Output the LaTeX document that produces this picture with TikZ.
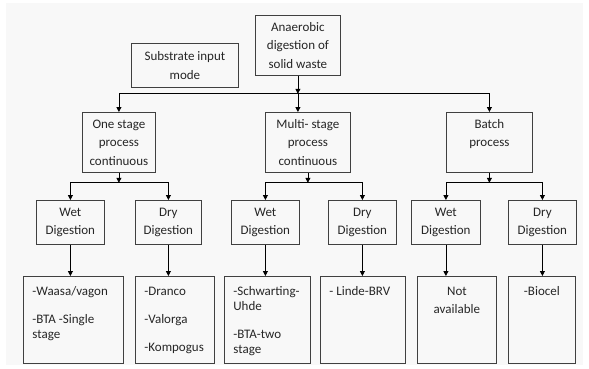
\documentclass[tikz,border=0pt]{standalone}
\usepackage{fontspec}
\setmainfont{Carlito}
\usepackage{xcolor}
\usetikzlibrary{arrows.meta, positioning}
\definecolor{boxedge}{HTML}{404040}
\definecolor{boxtext}{HTML}{262626}
\definecolor{pagegray}{HTML}{F8F8F8}
% top aligned contents of the bottom row
\newcommand{\leaflist}[2]{\parbox[t][87pt][t]{#1}{\raggedright\fontsize{13}{15}\selectfont\setlength{\parskip}{13pt}\rule{0pt}{19pt}#2}}
\newcommand{\leafmid}[2]{\parbox[t][87pt][t]{#1}{\centering\fontsize{13}{18}\selectfont\rule{0pt}{19pt}#2}}

\begin{document}
\begin{tikzpicture}[
    x=1pt, y=-1pt,
    box/.style={draw=boxedge, line width=0.8pt, align=center, anchor=north west,
                text=boxtext, font=\fontsize{13}{18.5}\selectfont, inner sep=0pt},
    leaf/.style={draw=boxedge, line width=0.8pt, anchor=north west,
                 text=boxtext, inner xsep=9pt, inner ysep=0pt},
    arr/.style={-{Triangle[width=5pt, length=5pt]}, line width=0.8pt},
  ]

  \useasboundingbox[fill=white] (0,0) rectangle (589,368);
  \fill[pagegray] (6,3) rectangle (583,365);

  % Top
  \node[box, minimum width=85pt, minimum height=60pt] (ad) at (255,15) {Anaerobic\\digestion of\\solid waste};
  \node[box, minimum width=107pt, minimum height=44pt] (mode) at (131,43) {Substrate input\\mode};
  \coordinate[below=18pt of ad] (adhub);

  % Process types
  \node[box, minimum width=73pt, minimum height=60pt] (one) at (82,112) {One stage\\process\\continuous};
  \node[box, minimum width=85pt, minimum height=60pt] (multi) at (265,112) {Multi- stage\\process\\continuous};
  \node[box, minimum width=86pt, minimum height=60pt] (batch) at (446,112) {Batch\\process\\\mbox{}};
  \coordinate[below=10pt of one] (onehub);
  \coordinate[below=10pt of multi] (multihub);
  \coordinate[below=10pt of batch] (batchhub);

  % Wet / dry
  \node[box, minimum width=68pt, minimum height=44pt] (wetA) at (36,200) {Wet\\Digestion};
  \node[box, minimum width=66pt, minimum height=44pt] (dryA) at (135,200) {Dry\\Digestion};
  \node[box, minimum width=68pt, minimum height=44pt] (wetB) at (231,200) {Wet\\Digestion};
  \node[box, minimum width=68pt, minimum height=44pt] (dryB) at (328,200) {Dry\\Digestion};
  \node[box, minimum width=69pt, minimum height=44pt] (wetC) at (411,200) {Wet\\Digestion};
  \node[box, minimum width=68pt, minimum height=44pt] (dryC) at (508,200) {Dry\\Digestion};

  % Examples
  \node[leaf] (listA) at (23,276) {\leaflist{82pt}{-Waasa/vagon\par -BTA -Single\\stage}};
  \node[leaf] (listB) at (135,276) {\leaflist{61pt}{-Dranco\par -Valorga\par -Kompogus}};
  \node[leaf] (listC) at (224,276) {\leaflist{68pt}{-Schwarting-\\Uhde\par -BTA-two\\stage}};
  \node[leaf] (listD) at (320,276) {\leaflist{67pt}{- Linde-BRV}};
  \node[leaf] (listE) at (417,276) {\leafmid{61pt}{Not\\available}};
  \node[leaf] (listF) at (508,276) {\leafmid{49pt}{-Biocel}};

  % Arrows
  \draw[arr] (ad) -- (adhub);
  \draw[arr] (adhub) -| (one);
  \draw[arr] (adhub) -- (adhub |- multi.north);
  \draw[arr] (adhub) -| (batch);

  \draw[arr] (one) -- (onehub);
  \draw[arr] (onehub) -| (wetA);
  \draw[arr] (onehub) -| (dryA);
  \draw[arr] (multi) -- (multihub);
  \draw[arr] (multihub) -| (wetB);
  \draw[arr] (multihub) -| (dryB);
  \draw[arr] (batch) -- (batchhub);
  \draw[arr] (batchhub) -| (wetC);
  \draw[arr] (batchhub) -| (dryC);

  \draw[arr] (wetA) -- (wetA |- listA.north);
  \draw[arr] (dryA) -- (dryA |- listB.north);
  \draw[arr] (wetB) -- (wetB |- listC.north);
  \draw[arr] (dryB) -- (dryB |- listD.north);
  \draw[arr] (wetC) -- (wetC |- listE.north);
  \draw[arr] (dryC) -- (dryC |- listF.north);

\end{tikzpicture}
\end{document}
